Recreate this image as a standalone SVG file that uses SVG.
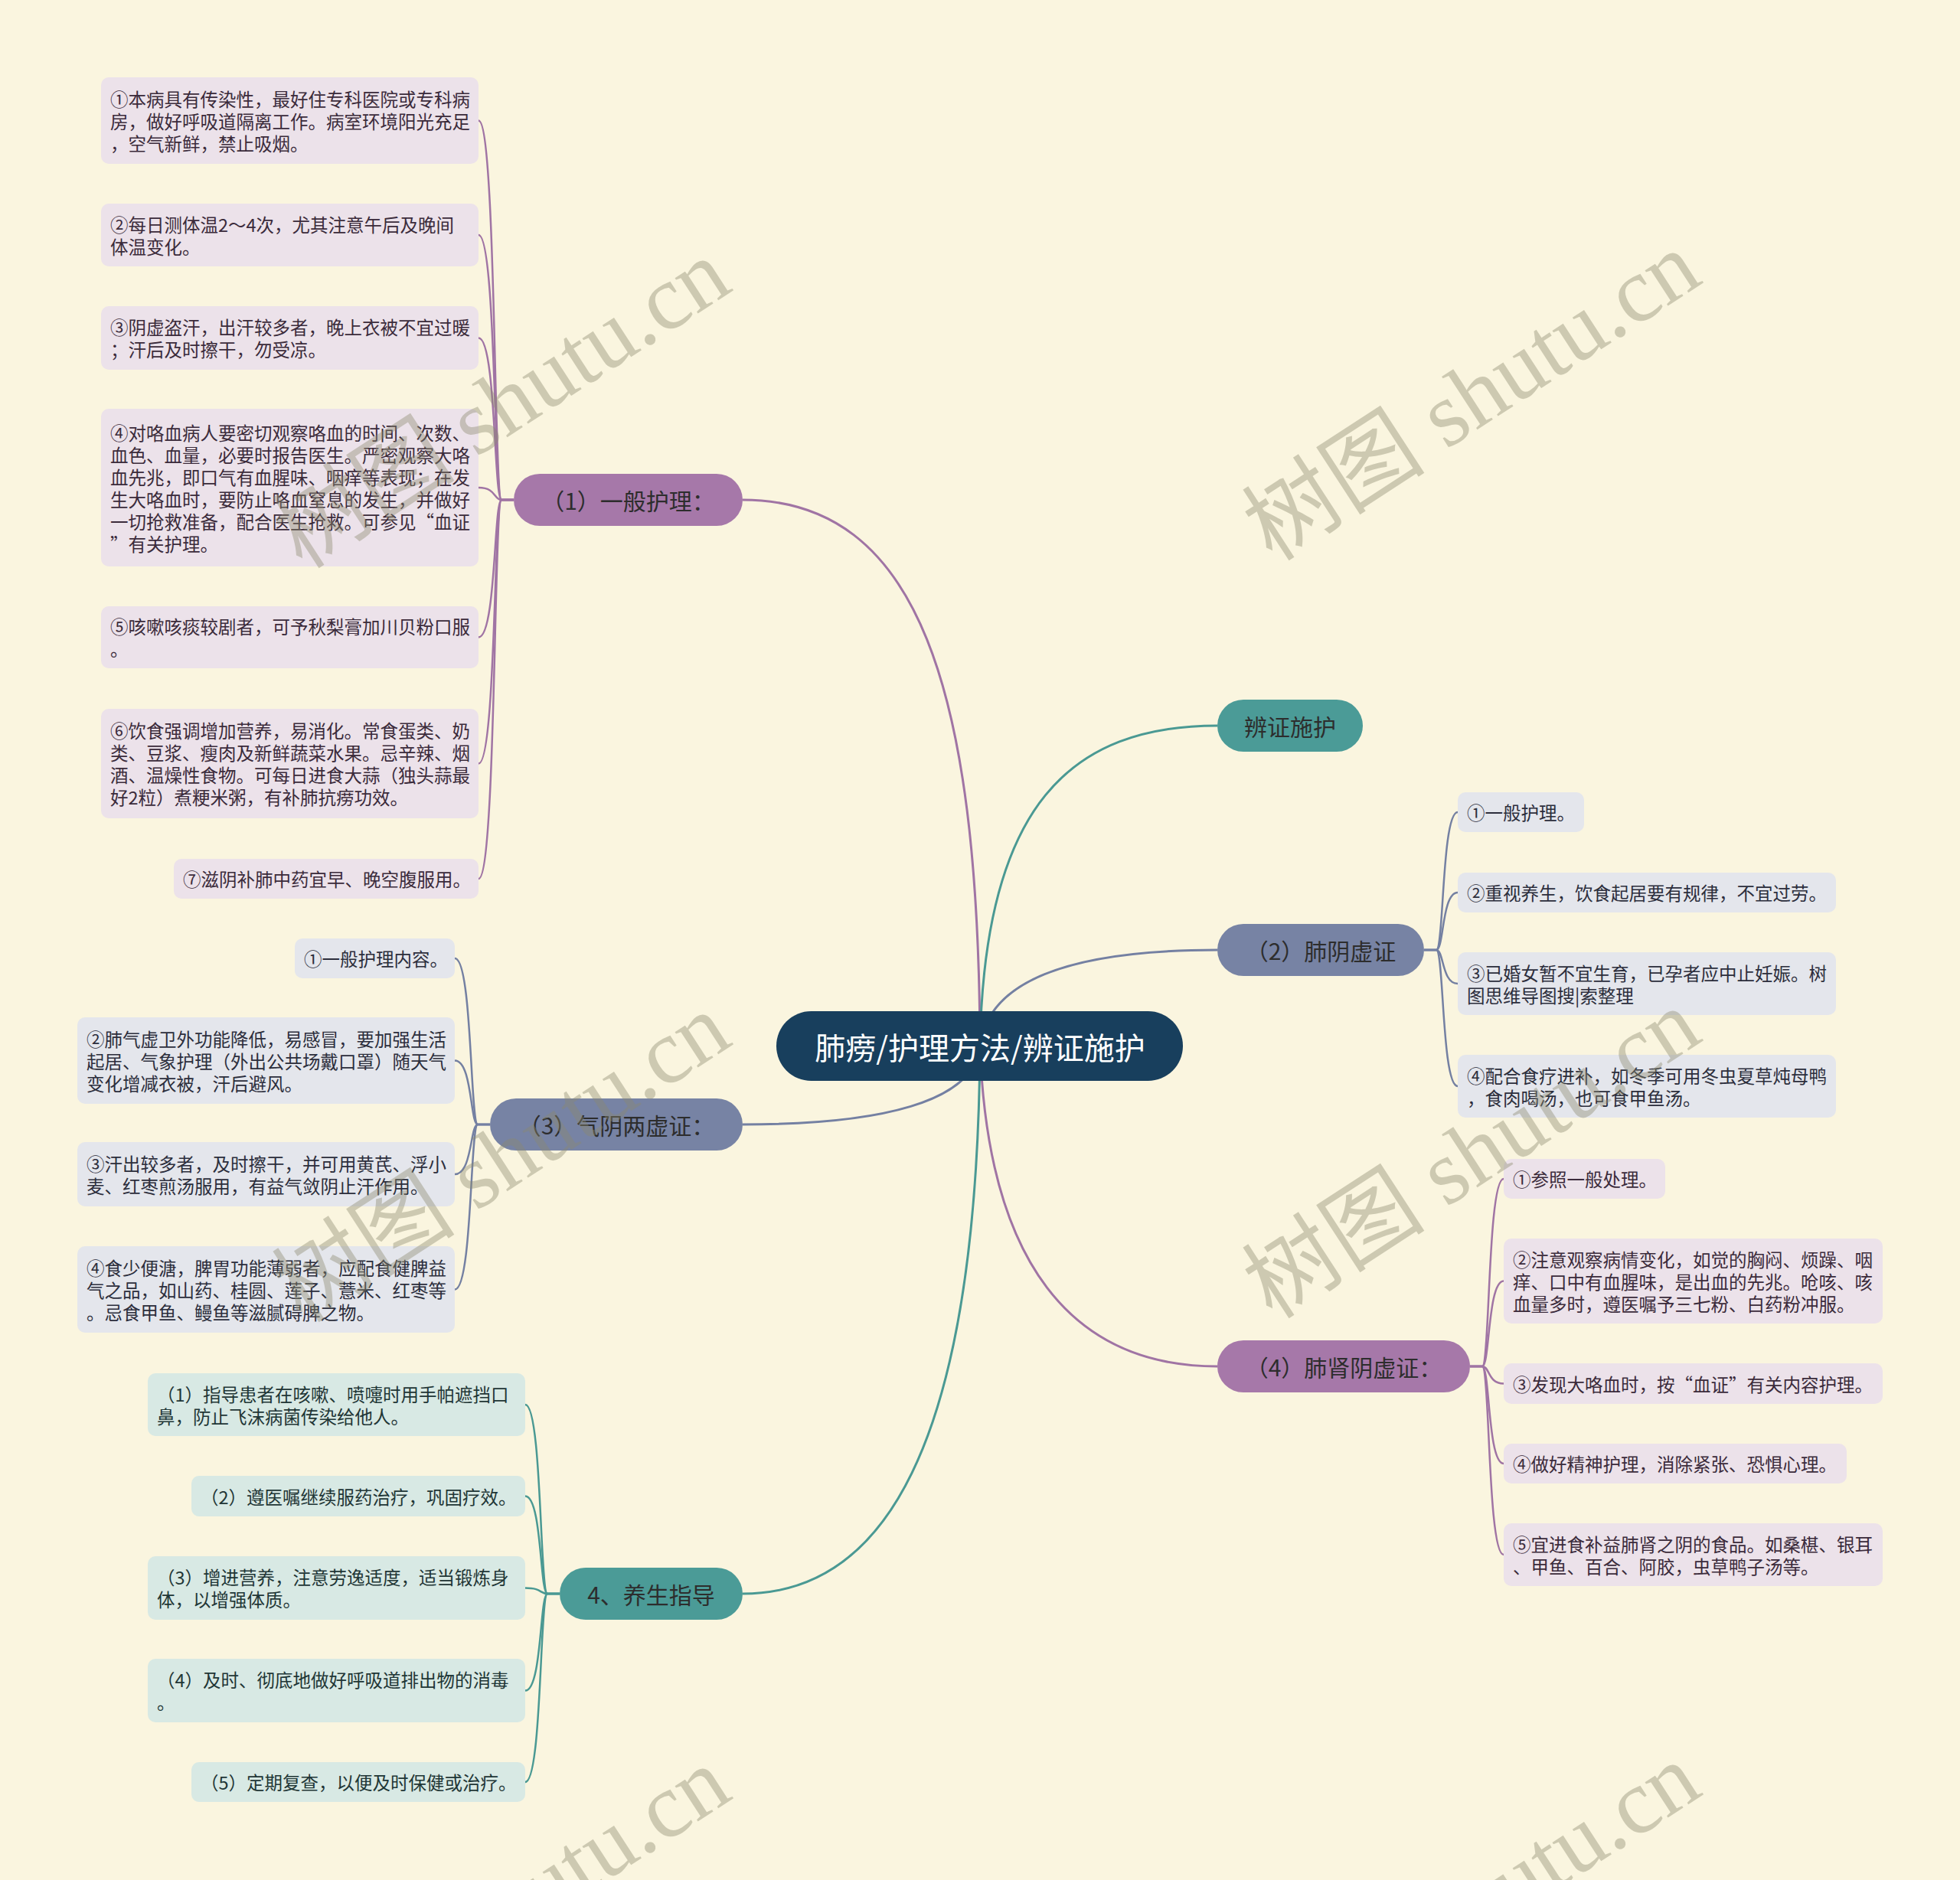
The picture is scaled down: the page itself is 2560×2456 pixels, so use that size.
<svg xmlns="http://www.w3.org/2000/svg" width="2560" height="2456" viewBox="0 0 2560 2456">
<style>
.bg{fill:#faf5df}
.root rect{fill:#183f5d}
.root text{fill:#ffffff;font-size:40px}
text{font-family:"Noto Sans CJK SC","Noto Sans",sans-serif}
.br text{font-size:30px;fill:#2d2d2d}
.pb rect{fill:#a678a9}
.sb rect{fill:#7783a4}
.tb rect{fill:#4b9b97}
.lf text{font-size:23.5px;dominant-baseline:central}
.pl rect{fill:#ece2ea}
.pl text{fill:#3b2b3b}
.sl rect{fill:#e4e6ec}
.sl text{fill:#2c2e3c}
.tl rect{fill:#d8e9e4}
.tl text{fill:#1f3636}
.br text{dominant-baseline:central;text-anchor:middle}
.root text{dominant-baseline:central;text-anchor:middle}
.c{fill:none;stroke-width:3}
.cl{fill:none;stroke-width:2.5}
.cp{stroke:#a074a4}
.cs{stroke:#7480a2}
.ct{stroke:#4a9993}
.wm{font-family:"Liberation Serif","Noto Sans CJK SC",serif;font-size:120px;fill:#8c8a6e;opacity:0.4}
</style>
<rect class="bg" x="0" y="0" width="2560" height="2456"/>
<g id="connectors">
<path class="c cp" d="M1280 1367 C1278 900 1200 653 970 653"/>
<path class="c ct" d="M1280 1367 C1285 1050 1400 948 1590 948"/>
<path class="c cs" d="M1280 1367 C1290 1280 1400 1241 1590 1241"/>
<path class="c cs" d="M1280 1367 C1272 1440 1150 1469 970 1469"/>
<path class="c cp" d="M1280 1367 C1290 1650 1400 1785 1590 1785"/>
<path class="c ct" d="M1280 1367 C1276 1900 1150 2082 970 2082"/>
<g class="cl cp">
<path d="M671 653 L655 653 C645 653 648 157.5 625 157.5"/>
<path d="M671 653 L655 653 C645 653 648 307 625 307"/>
<path d="M671 653 L655 653 C645 653 648 441.5 625 441.5"/>
<path d="M671 653 L655 653 C645 653 648 637 625 637"/>
<path d="M671 653 L655 653 C645 653 648 832.5 625 832.5"/>
<path d="M671 653 L655 653 C645 653 648 997.5 625 997.5"/>
<path d="M671 653 L655 653 C645 653 648 1148 625 1148"/>
</g>
<g class="cl cs">
<path d="M640 1469 L624 1469 C614 1469 617 1252 594 1252"/>
<path d="M640 1469 L624 1469 C614 1469 617 1385.5 594 1385.5"/>
<path d="M640 1469 L624 1469 C614 1469 617 1534 594 1534"/>
<path d="M640 1469 L624 1469 C614 1469 617 1684.5 594 1684.5"/>
</g>
<g class="cl ct">
<path d="M731 2082 L715 2082 C705 2082 708 1835 686 1835"/>
<path d="M731 2082 L715 2082 C705 2082 708 1954.5 686 1954.5"/>
<path d="M731 2082 L715 2082 C705 2082 708 2074.5 686 2074.5"/>
<path d="M731 2082 L715 2082 C705 2082 708 2208.5 686 2208.5"/>
<path d="M731 2082 L715 2082 C705 2082 708 2328 686 2328"/>
</g>
<g class="cl cs">
<path d="M1860 1241 L1876 1241 C1886 1241 1883 1061 1904 1061"/>
<path d="M1860 1241 L1876 1241 C1886 1241 1883 1166 1904 1166"/>
<path d="M1860 1241 L1876 1241 C1886 1241 1883 1285 1904 1285"/>
<path d="M1860 1241 L1876 1241 C1886 1241 1883 1419 1904 1419"/>
</g>
<g class="cl cp">
<path d="M1920 1785 L1936 1785 C1946 1785 1943 1540 1964 1540"/>
<path d="M1920 1785 L1936 1785 C1946 1785 1943 1673.5 1964 1673.5"/>
<path d="M1920 1785 L1936 1785 C1946 1785 1943 1807.5 1964 1807.5"/>
<path d="M1920 1785 L1936 1785 C1946 1785 1943 1912 1964 1912"/>
<path d="M1920 1785 L1936 1785 C1946 1785 1943 2031 1964 2031"/>
</g>
</g>
<g id="root" class="root"><rect x="1014" y="1321" width="531" height="91" rx="45.5"/><text x="1280" y="1367">肺痨/护理方法/辨证施护</text></g>
<g id="b1" class="br pb"><rect x="671" y="619" width="299" height="68" rx="34"/><text x="820.5" y="653">（1）一般护理：</text></g>
<g id="b2" class="br tb"><rect x="1590" y="914" width="190" height="68" rx="34"/><text x="1685" y="948">辨证施护</text></g>
<g id="b3" class="br sb"><rect x="1590" y="1207" width="270" height="68" rx="34"/><text x="1725" y="1241">（2）肺阴虚证</text></g>
<g id="b4" class="br sb"><rect x="640" y="1435" width="330" height="68" rx="34"/><text x="805" y="1469">（3）气阴两虚证：</text></g>
<g id="b5" class="br pb"><rect x="1590" y="1751" width="330" height="68" rx="34"/><text x="1755" y="1785">（4）肺肾阴虚证：</text></g>
<g id="b6" class="br tb"><rect x="731" y="2048" width="239" height="68" rx="34"/><text x="850.5" y="2082">4、养生指导</text></g>

<g id="l1-1" class="lf pl"><rect x="132" y="101" width="493" height="113" rx="10"/><text x="144" y="128.5"><tspan x="144">①本病具有传染性，最好住专科医院或专科病</tspan><tspan x="144" dy="29">房，做好呼吸道隔离工作。病室环境阳光充足</tspan><tspan x="144" dy="29">，空气新鲜，禁止吸烟。</tspan></text></g>
<g id="l1-2" class="lf pl"><rect x="132" y="266" width="493" height="82" rx="10"/><text x="144" y="292.5"><tspan x="144">②每日测体温2～4次，尤其注意午后及晚间</tspan><tspan x="144" dy="29">体温变化。</tspan></text></g>
<g id="l1-3" class="lf pl"><rect x="132" y="400" width="493" height="83" rx="10"/><text x="144" y="427"><tspan x="144">③阴虚盗汗，出汗较多者，晚上衣被不宜过暖</tspan><tspan x="144" dy="29">；汗后及时擦干，勿受凉。</tspan></text></g>
<g id="l1-4" class="lf pl"><rect x="132" y="534" width="493" height="206" rx="10"/><text x="144" y="564.5"><tspan x="144">④对咯血病人要密切观察咯血的时间、次数、</tspan><tspan x="144" dy="29">血色、血量，必要时报告医生。严密观察大咯</tspan><tspan x="144" dy="29">血先兆，即口气有血腥味、咽痒等表现；在发</tspan><tspan x="144" dy="29">生大咯血时，要防止咯血窒息的发生，并做好</tspan><tspan x="144" dy="29">一切抢救准备，配合医生抢救。可参见“血证</tspan><tspan x="144" dy="29">”有关护理。</tspan></text></g>
<g id="l1-5" class="lf pl"><rect x="132" y="792" width="493" height="81" rx="10"/><text x="144" y="818"><tspan x="144">⑤咳嗽咳痰较剧者，可予秋梨膏加川贝粉口服</tspan><tspan x="144" dy="29">。</tspan></text></g>
<g id="l1-6" class="lf pl"><rect x="132" y="926" width="493" height="143" rx="10"/><text x="144" y="954"><tspan x="144">⑥饮食强调增加营养，易消化。常食蛋类、奶</tspan><tspan x="144" dy="29">类、豆浆、瘦肉及新鲜蔬菜水果。忌辛辣、烟</tspan><tspan x="144" dy="29">酒、温燥性食物。可每日进食大蒜（独头蒜最</tspan><tspan x="144" dy="29">好2粒）煮粳米粥，有补肺抗痨功效。</tspan></text></g>
<g id="l1-7" class="lf pl"><rect x="227" y="1122" width="398" height="52" rx="10"/><text x="239" y="1148">⑦滋阴补肺中药宜早、晚空腹服用。</text></g>

<g id="l3-1" class="lf sl"><rect x="385" y="1226" width="209" height="52" rx="10"/><text x="397" y="1252">①一般护理内容。</text></g>
<g id="l3-2" class="lf sl"><rect x="101" y="1329" width="493" height="113" rx="10"/><text x="113" y="1356.5"><tspan x="113">②肺气虚卫外功能降低，易感冒，要加强生活</tspan><tspan x="113" dy="29">起居、气象护理（外出公共场戴口罩）随天气</tspan><tspan x="113" dy="29">变化增减衣被，汗后避风。</tspan></text></g>
<g id="l3-3" class="lf sl"><rect x="101" y="1492" width="493" height="84" rx="10"/><text x="113" y="1519.5"><tspan x="113">③汗出较多者，及时擦干，并可用黄芪、浮小</tspan><tspan x="113" dy="29">麦、红枣煎汤服用，有益气敛阴止汗作用。</tspan></text></g>
<g id="l3-4" class="lf sl"><rect x="101" y="1628" width="493" height="113" rx="10"/><text x="113" y="1655.5"><tspan x="113">④食少便溏，脾胃功能薄弱者，应配食健脾益</tspan><tspan x="113" dy="29">气之品，如山药、桂圆、莲子、薏米、红枣等</tspan><tspan x="113" dy="29">。忌食甲鱼、鳗鱼等滋腻碍脾之物。</tspan></text></g>

<g id="l6-1" class="lf tl"><rect x="193" y="1794" width="493" height="82" rx="10"/><text x="205" y="1820.5"><tspan x="205">（1）指导患者在咳嗽、喷嚏时用手帕遮挡口</tspan><tspan x="205" dy="29">鼻，防止飞沫病菌传染给他人。</tspan></text></g>
<g id="l6-2" class="lf tl"><rect x="250" y="1928" width="436" height="53" rx="10"/><text x="262" y="1954.5">（2）遵医嘱继续服药治疗，巩固疗效。</text></g>
<g id="l6-3" class="lf tl"><rect x="193" y="2033" width="493" height="83" rx="10"/><text x="205" y="2060"><tspan x="205">（3）增进营养，注意劳逸适度，适当锻炼身</tspan><tspan x="205" dy="29">体，以增强体质。</tspan></text></g>
<g id="l6-4" class="lf tl"><rect x="193" y="2167" width="493" height="83" rx="10"/><text x="205" y="2194"><tspan x="205">（4）及时、彻底地做好呼吸道排出物的消毒</tspan><tspan x="205" dy="29">。</tspan></text></g>
<g id="l6-5" class="lf tl"><rect x="250" y="2302" width="436" height="52" rx="10"/><text x="262" y="2328">（5）定期复查，以便及时保健或治疗。</text></g>

<g id="l2-1" class="lf sl"><rect x="1904" y="1035" width="165" height="52" rx="10"/><text x="1916" y="1061">①一般护理。</text></g>
<g id="l2-2" class="lf sl"><rect x="1904" y="1140" width="494" height="52" rx="10"/><text x="1916" y="1166">②重视养生，饮食起居要有规律，不宜过劳。</text></g>
<g id="l2-3" class="lf sl"><rect x="1904" y="1244" width="494" height="82" rx="10"/><text x="1916" y="1270.5"><tspan x="1916">③已婚女暂不宜生育，已孕者应中止妊娠。树</tspan><tspan x="1916" dy="29">图思维导图搜|索整理</tspan></text></g>
<g id="l2-4" class="lf sl"><rect x="1904" y="1378" width="494" height="82" rx="10"/><text x="1916" y="1404.5"><tspan x="1916">④配合食疗进补，如冬季可用冬虫夏草炖母鸭</tspan><tspan x="1916" dy="29">，食肉喝汤，也可食甲鱼汤。</tspan></text></g>

<g id="l5-1" class="lf pl"><rect x="1964" y="1514" width="211" height="52" rx="10"/><text x="1976" y="1540">①参照一般处理。</text></g>
<g id="l5-2" class="lf pl"><rect x="1964" y="1618" width="495" height="111" rx="10"/><text x="1976" y="1644.5"><tspan x="1976">②注意观察病情变化，如觉的胸闷、烦躁、咽</tspan><tspan x="1976" dy="29">痒、口中有血腥味，是出血的先兆。呛咳、咳</tspan><tspan x="1976" dy="29">血量多时，遵医嘱予三七粉、白药粉冲服。</tspan></text></g>
<g id="l5-3" class="lf pl"><rect x="1964" y="1781" width="495" height="53" rx="10"/><text x="1976" y="1807.5">③发现大咯血时，按“血证”有关内容护理。</text></g>
<g id="l5-4" class="lf pl"><rect x="1964" y="1886" width="448" height="52" rx="10"/><text x="1976" y="1912">④做好精神护理，消除紧张、恐惧心理。</text></g>
<g id="l5-5" class="lf pl"><rect x="1964" y="1990" width="495" height="82" rx="10"/><text x="1976" y="2016.5"><tspan x="1976">⑤宜进食补益肺肾之阴的食品。如桑椹、银耳</tspan><tspan x="1976" dy="29">、甲鱼、百合、阿胶，虫草鸭子汤等。</tspan></text></g>

<g id="watermarks">
<text class="wm" transform="translate(395 745) rotate(-33)">树图 shutu.cn</text>
<text class="wm" transform="translate(1662 735) rotate(-33)">树图 shutu.cn</text>
<text class="wm" transform="translate(395 1730) rotate(-33)">树图 shutu.cn</text>
<text class="wm" transform="translate(1662 1725) rotate(-33)">树图 shutu.cn</text>
<text class="wm" transform="translate(395 2715) rotate(-33)">树图 shutu.cn</text>
<text class="wm" transform="translate(1662 2710) rotate(-33)">树图 shutu.cn</text>
</g>
</svg>
